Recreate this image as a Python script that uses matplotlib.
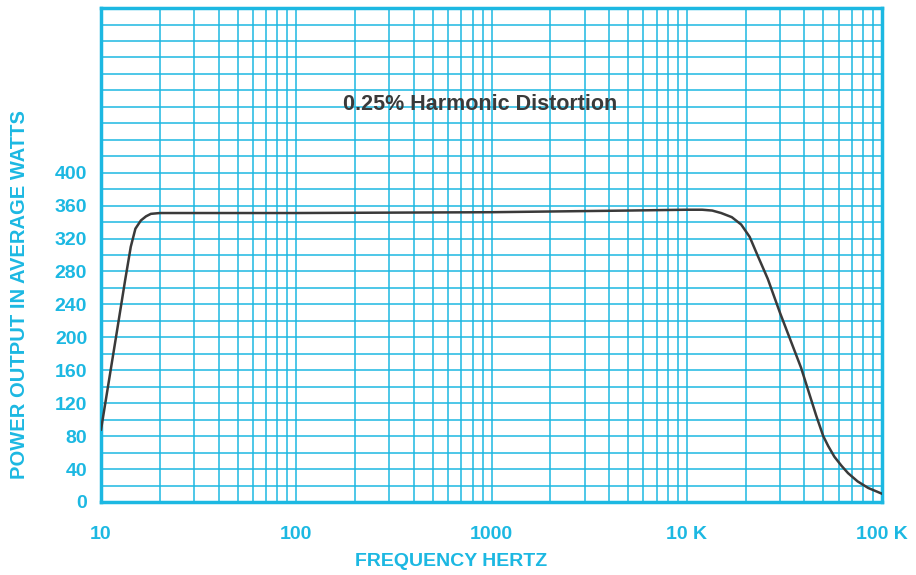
import numpy as np
import matplotlib.pyplot as plt
from matplotlib.ticker import FixedLocator, LogLocator, NullFormatter

# Power output curve at 0.25% harmonic distortion
freq_hz = [10, 12, 13.3, 14.2, 15, 16, 17, 18, 20, 30, 100, 1000, 5000,
           10000, 12000, 13500, 15000, 17000, 19000, 21000, 23000, 26000,
           30000, 38500, 46000, 50000, 53000, 57000, 62000, 67000, 75000,
           85000, 100000]
power_w = [88, 204, 270, 310, 332, 342, 347, 350, 351, 351, 351, 352, 354,
           355, 355, 354, 351, 346, 337, 322, 300, 271,
           230, 163, 105, 80, 68, 55, 44, 35, 25,
           17, 10]

y_ticks = [0, 40, 80, 120, 160, 200, 240, 280, 320, 360, 400]
x_ticks = [10, 100, 1000, 10000, 100000]
x_labels = ['10', '100', '1000', '10 K', '100 K']

cyan = '#1cb8e2'
ink = '#3a3a3a'
plt.rcParams['font.family'] = ['Liberation Sans', 'DejaVu Sans']

fig = plt.figure(figsize=(9.16, 5.75), dpi=100)
ax = fig.add_axes([0.1103, 0.127, 0.8526, 0.859])

ax.plot(freq_hz, power_w, color=ink, linewidth=1.8, zorder=3)

ax.set_xscale('log')
ax.set_xlim(10, 100000)
ax.set_ylim(0, 600)

ax.xaxis.set_major_locator(FixedLocator(x_ticks))
ax.xaxis.set_minor_locator(LogLocator(base=10, subs=np.arange(2, 10)))
ax.xaxis.set_minor_formatter(NullFormatter())
ax.set_xticklabels(x_labels)
ax.yaxis.set_major_locator(FixedLocator(y_ticks))
ax.yaxis.set_minor_locator(FixedLocator(np.arange(0, 601, 20)))

ax.grid(which='both', axis='both', color=cyan, linewidth=1.1, zorder=1)
ax.tick_params(which='both', length=0)
ax.tick_params(axis='x', pad=17, labelsize=14, labelcolor=cyan)
ax.tick_params(axis='y', pad=10, labelsize=14, labelcolor=cyan)
for lab in ax.get_xticklabels() + ax.get_yticklabels():
    lab.set_fontweight('bold')

for sp in ax.spines.values():
    sp.set_color(cyan)
    sp.set_linewidth(2.5)

ax.text(0.486, 0.805, '0.25% Harmonic Distortion', transform=ax.transAxes,
        ha='center', va='center', fontsize=15.5, fontweight='bold', color=ink)

fig.text(451 / 916, 1 - 562 / 575, 'FREQUENCY HERTZ', ha='center', va='center',
         fontsize=14, fontweight='bold', color=cyan)
fig.text(20 / 916, 1 - 295 / 575, 'POWER OUTPUT IN AVERAGE WATTS', ha='center',
         va='center', rotation=90, fontsize=14.5, fontweight='bold', color=cyan)

fig.savefig('out.png', dpi=100)
